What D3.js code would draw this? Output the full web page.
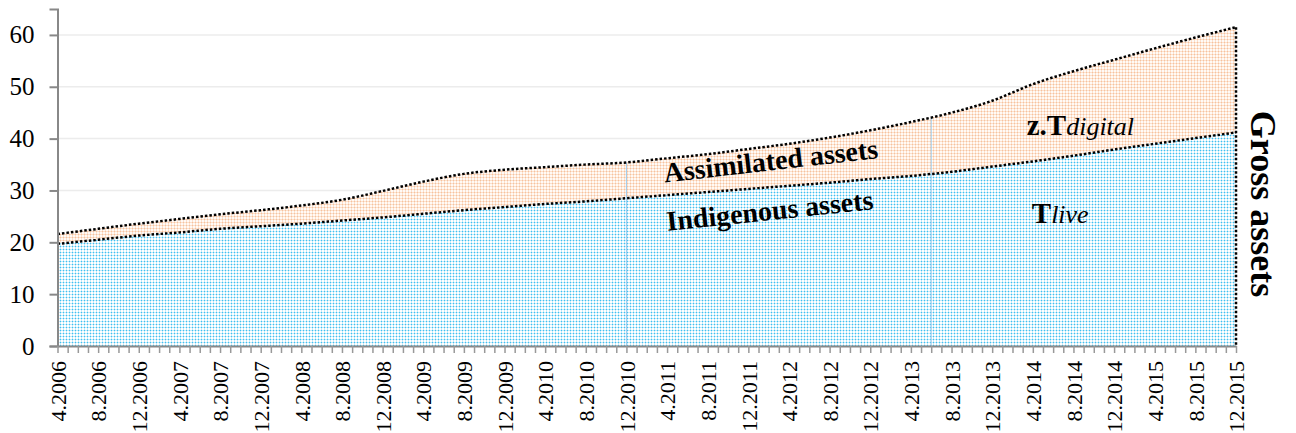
<!DOCTYPE html>
<html>
<head>
<meta charset="utf-8">
<script src="https://cdn.jsdelivr.net/npm/d3@7"></script>
<style>
  body { margin: 0; background: #fff; }
  svg text { font-family: "Liberation Serif", "Times New Roman", serif; fill: #000; }
</style>
</head>
<body>
<div id="chart"></div>
<script>
// month labels, every 4 months (4.2006 .. 12.2015)
var monthLabels = ['4.2006','8.2006','12.2006','4.2007','8.2007','12.2007','4.2008','8.2008','12.2008',
  '4.2009','8.2009','12.2009','4.2010','8.2010','12.2010','4.2011','8.2011','12.2011',
  '4.2012','8.2012','12.2012','4.2013','8.2013','12.2013','4.2014','8.2014','12.2014',
  '4.2015','8.2015','12.2015'];

// Indigenous assets (T live)
var indigenous = [19.7,20.5,21.3,21.9,22.6,23.1,23.6,24.2,24.8,25.5,26.2,26.8,27.4,27.9,28.5,
  29.1,29.7,30.3,30.9,31.5,32.2,32.8,33.6,34.6,35.6,36.7,37.9,39.0,40.1,41.2];

// Gross assets (indigenous + assimilated)
var gross = [21.6,22.6,23.6,24.5,25.4,26.2,27.1,28.2,29.9,31.7,33.2,34.0,34.5,35.0,35.4,
  36.2,37.0,38.0,39.0,40.2,41.6,43.2,45.0,47.3,50.5,53.0,55.2,57.4,59.5,61.5];

var yTicks = [0, 10, 20, 30, 40, 50, 60];
var markerMonths = ['12.2010', '6.2013'];

var serif = '"Liberation Serif", "Times New Roman", serif';
var width = 1296, height = 433;
var margin = { left: 57.5, right: 60, top: 9, bottom: 87 };

// month index from "m.yyyy"
function monthIndex(s) {
  var p = s.split('.');
  return (+p[1] - 2006) * 12 + (+p[0] - 4);
}
var lastIdx = monthIndex('12.2015');

var labelByIdx = {};
monthLabels.forEach(function (l) { labelByIdx[monthIndex(l)] = l; });

var data = monthLabels.map(function (l, i) {
  return { m: monthIndex(l), low: indigenous[i], high: gross[i] };
});

var x = d3.scaleLinear().domain([0, lastIdx]).range([margin.left, width - margin.right]);
var y = d3.scaleLinear().domain([0, 65]).range([height - margin.bottom, margin.top]);

var svg = d3.select('#chart').append('svg')
  .attr('width', width)
  .attr('height', height);

// patterns for the two areas
var defs = svg.append('defs');
var pb = defs.append('pattern').attr('id', 'pBlue')
  .attr('width', 3).attr('height', 3).attr('patternUnits', 'userSpaceOnUse');
pb.append('rect').attr('width', 3).attr('height', 3).attr('fill', '#ffffff');
pb.append('rect').attr('width', 3).attr('height', 1).attr('fill', '#c2eafa');
pb.append('rect').attr('width', 1).attr('height', 3).attr('fill', '#c2eafa');
pb.append('rect').attr('width', 1).attr('height', 1).attr('fill', '#40c0f0');

var po = defs.append('pattern').attr('id', 'pOrange')
  .attr('width', 3).attr('height', 3).attr('patternUnits', 'userSpaceOnUse');
po.append('rect').attr('width', 3).attr('height', 3).attr('fill', '#fffaf6');
po.append('rect').attr('width', 3).attr('height', 1).attr('fill', '#fce0cc');
po.append('rect').attr('width', 1).attr('height', 3).attr('fill', '#fce0cc');
po.append('rect').attr('width', 1).attr('height', 1).attr('fill', '#f6c29e');

var curve = d3.curveMonotoneX;

var areaHigh = d3.area().curve(curve)
  .x(function (d) { return x(d.m); })
  .y0(y(0))
  .y1(function (d) { return y(d.high); });

defs.append('clipPath').attr('id', 'clipHigh')
  .append('path').datum(data).attr('d', areaHigh);

// gridlines
svg.append('g')
  .selectAll('line')
  .data(yTicks.filter(function (t) { return t > 0; }))
  .enter().append('line')
  .attr('x1', x(0)).attr('x2', x(lastIdx))
  .attr('y1', function (d) { return y(d); })
  .attr('y2', function (d) { return y(d); })
  .attr('stroke', '#ececec')
  .attr('stroke-width', 1.5);

// assimilated area (between lines)
svg.append('path').datum(data)
  .attr('fill', 'url(#pOrange)')
  .attr('d', d3.area().curve(curve)
    .x(function (d) { return x(d.m); })
    .y0(function (d) { return y(d.low); })
    .y1(function (d) { return y(d.high); }));

// indigenous area
svg.append('path').datum(data)
  .attr('fill', 'url(#pBlue)')
  .attr('d', d3.area().curve(curve)
    .x(function (d) { return x(d.m); })
    .y0(y(0))
    .y1(function (d) { return y(d.low); }));

// faint vertical markers inside the area
svg.append('g').attr('clip-path', 'url(#clipHigh)')
  .selectAll('line')
  .data(markerMonths)
  .enter().append('line')
  .attr('x1', function (d) { return x(monthIndex(d)); })
  .attr('x2', function (d) { return x(monthIndex(d)); })
  .attr('y1', y(65)).attr('y2', y(0))
  .attr('stroke', '#9ecbec')
  .attr('stroke-width', 1);

// dotted outlines
var lineLow = d3.line().curve(curve)
  .x(function (d) { return x(d.m); })
  .y(function (d) { return y(d.low); });
var lineHigh = d3.line().curve(curve)
  .x(function (d) { return x(d.m); })
  .y(function (d) { return y(d.high); });

svg.append('path').datum(data)
  .attr('fill', 'none').attr('stroke', '#000')
  .attr('stroke-width', 2.5).attr('stroke-dasharray', '2.5,2')
  .attr('d', lineHigh);
svg.append('path').datum(data)
  .attr('fill', 'none').attr('stroke', '#000')
  .attr('stroke-width', 2.5).attr('stroke-dasharray', '2.5,2')
  .attr('d', lineLow);
svg.append('line')
  .attr('x1', x(lastIdx)).attr('x2', x(lastIdx))
  .attr('y1', y(gross[gross.length - 1])).attr('y2', y(0))
  .attr('stroke', '#000').attr('stroke-width', 2.5).attr('stroke-dasharray', '2.5,2');

// axes
var yAxis = svg.append('g')
  .attr('transform', 'translate(' + x(0) + ',0)')
  .call(d3.axisLeft(y).tickValues(yTicks).tickSize(8).tickPadding(15));
yAxis.attr('font-family', serif).attr('font-size', 25);
yAxis.select('.domain').attr('stroke', '#888').attr('stroke-width', 2);
yAxis.selectAll('.tick line').attr('stroke', '#888').attr('stroke-width', 2);
yAxis.selectAll('.tick text')
  .style('font-family', serif).style('font-size', '25px').attr('fill', '#000');

var xAxis = svg.append('g')
  .attr('transform', 'translate(0,' + y(0) + ')')
  .call(d3.axisBottom(x)
    .tickValues(d3.range(0, lastIdx + 1))
    .tickSize(7)
    .tickSizeOuter(0)
    .tickFormat(function (i) { return labelByIdx[i] || ''; }));
xAxis.attr('font-family', serif).attr('font-size', 22);
xAxis.select('.domain').attr('stroke', '#888').attr('stroke-width', 2);
xAxis.selectAll('.tick line').attr('stroke', '#999').attr('stroke-width', 1.5);
xAxis.selectAll('.tick text')
  .style('font-family', serif).style('font-size', '22px').attr('fill', '#000')
  .attr('text-anchor', 'end')
  .attr('transform', 'rotate(-90)')
  .attr('x', -15).attr('y', 0).attr('dy', '0.35em');

// area labels
var notes = svg.append('g');
notes.append('text')
  .attr('transform', 'translate(' + x(70.3) + ',' + y(33.9) + ') rotate(-6.5)')
  .attr('text-anchor', 'middle')
  .attr('font-size', 28).attr('font-weight', 'bold')
  .text('Assimilated assets');
notes.append('text')
  .attr('transform', 'translate(' + x(70.2) + ',' + y(24.3) + ') rotate(-6)')
  .attr('text-anchor', 'middle')
  .attr('font-size', 28).attr('font-weight', 'bold')
  .text('Indigenous assets');

var t1 = notes.append('text')
  .attr('x', x(95.4)).attr('y', y(40.7));
t1.append('tspan').attr('font-size', 29).attr('font-weight', 'bold').text('z.T');
t1.append('tspan').attr('font-size', 26).attr('font-style', 'italic').text('digital');

var t2 = notes.append('text')
  .attr('x', x(95.9)).attr('y', y(23.7));
t2.append('tspan').attr('font-size', 29).attr('font-weight', 'bold').text('T');
t2.append('tspan').attr('font-size', 26).attr('font-style', 'italic').text('live');

svg.append('text')
  .attr('transform', 'translate(' + (width - 45) + ',' + 204 + ') rotate(90)')
  .attr('text-anchor', 'middle')
  .attr('font-size', 36).attr('font-weight', 'bold')
  .text('Gross assets');
</script>
</body>
</html>
